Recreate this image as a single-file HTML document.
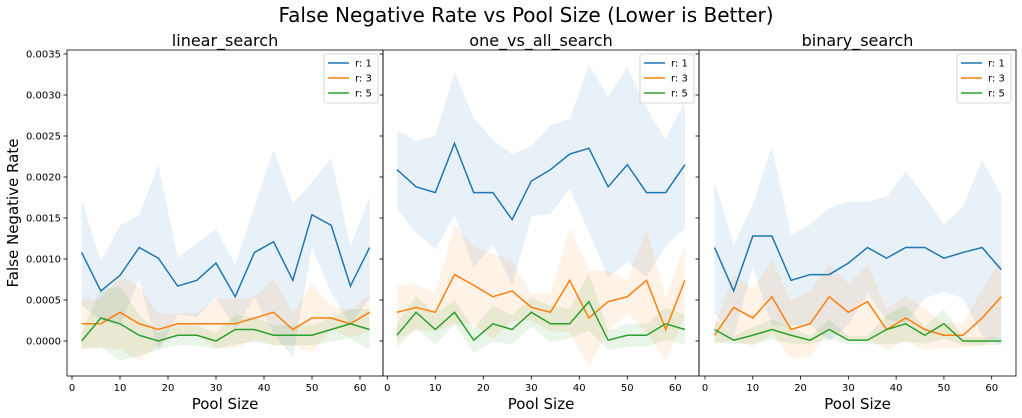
<!DOCTYPE html>
<html><head><meta charset="utf-8"><style>
body{margin:0;background:#fff;}
svg{display:block;font-family:"DejaVu Sans","Liberation Sans",sans-serif;}
</style></head><body>
<svg id="chart" width="1022" height="418" viewBox="0 0 1022 418" xmlns="http://www.w3.org/2000/svg">
<rect width="1022" height="418" fill="#fff"/>
<text x="526" y="22" font-size="20" text-anchor="middle" fill="#000">False Negative Rate vs Pool Size (Lower is Better)</text>
<g id="plots"></g>
</svg>
<script>
const poolSizes=[2,6,10,14,18,22,26,30,34,38,42,46,50,54,58,62];
const yTicks=[0,0.0005,0.001,0.0015,0.002,0.0025,0.003,0.0035];
const yTickLabels=["0.0000","0.0005","0.0010","0.0015","0.0020","0.0025","0.0030","0.0035"];
const xTicks=[0,10,20,30,40,50,60];
const panelTitles=["linear_search","one_vs_all_search","binary_search"];
const seriesNames=["r: 1","r: 3","r: 5"];
const linR1Mean=[0.00108,0.00061,0.0008,0.00114,0.00101,0.00067,0.00074,0.00095,0.00054,0.00108,0.00121,0.00074,0.00154,0.00141,0.00067,0.00114];
const linR1Err=[0.00064,0.00036,0.00061,0.00039,0.00114,0.00034,0.00045,0.00042,0.00039,0.00055,0.00112,0.00094,0.0004,0.00082,0.00048,0.00062];
const linR3Mean=[0.00021,0.00021,0.00035,0.00021,0.00014,0.00021,0.00021,0.00021,0.00021,0.00028,0.00035,0.00014,0.00028,0.00028,0.00021,0.00035];
const linR3Err=[0.0003,0.0003,0.00045,0.00045,0.0002,0.00013,0.00013,0.0003,0.0003,0.00026,0.0004,0.0002,0.00042,0.00014,0.00017,0.00023];
const linR5Mean=[0,0.00028,0.00021,0.00007,0,0.00007,0.00007,0,0.00014,0.00014,0.00007,0.00007,0.00007,0.00014,0.00021,0.00014];
const linR5Err=[0.0001,0.00035,0.00045,0.00025,0.0001,0.00012,0.00012,0.0001,0.00018,0.00015,0.00012,0.00012,0.00012,0.00015,0.00018,0.00025];
const ovaR1Mean=[0.00209,0.00188,0.00181,0.00241,0.00181,0.00181,0.00148,0.00195,0.00209,0.00228,0.00235,0.00188,0.00215,0.00181,0.00181,0.00215];
const ovaR1Err=[0.00048,0.00056,0.00069,0.00087,0.00091,0.00064,0.0008,0.00043,0.00054,0.00043,0.00102,0.0011,0.00119,0.00103,0.00065,0.00077];
const ovaR3Mean=[0.00035,0.00041,0.00035,0.00081,0.00068,0.00054,0.00061,0.00041,0.00035,0.00074,0.00028,0.00048,0.00054,0.00074,0.00014,0.00074];
const ovaR3Err=[0.00033,0.00028,0.00023,0.0006,0.00047,0.00052,0.00037,0.00016,0.00023,0.00063,0.00059,0.00037,0.0002,0.00063,0.00038,0.00043];
const ovaR5Mean=[0.00007,0.00035,0.00014,0.00035,0.00001,0.00021,0.00014,0.00035,0.00021,0.00021,0.00048,0.00001,0.00007,0.00007,0.00021,0.00014];
const ovaR5Err=[0.00014,0.0002,0.00018,0.00015,0.00015,0.00022,0.00018,0.00018,0.00022,0.00018,0.00035,0.00012,0.00014,0.00014,0.0002,0.00018];
const binR1Mean=[0.00114,0.00061,0.00128,0.00128,0.00074,0.00081,0.00081,0.00095,0.00114,0.00101,0.00114,0.00114,0.00101,0.00108,0.00114,0.00087];
const binR1Err=[0.0008,0.00056,0.00038,0.00109,0.00055,0.00061,0.00081,0.00075,0.00056,0.00075,0.00093,0.00062,0.00041,0.00056,0.00107,0.00091];
const binR3Mean=[0.00007,0.00041,0.00028,0.00054,0.00014,0.00021,0.00054,0.00035,0.00048,0.00014,0.00028,0.00014,0.00007,0.00007,0.00028,0.00054];
const binR3Err=[0.0001,0.0004,0.00035,0.00045,0.00035,0.0004,0.0004,0.00035,0.00045,0.00025,0.00028,0.00025,0.00015,0.00015,0.00035,0.00045];
const binR5Mean=[0.00014,0.00001,0.00007,0.00014,0.00007,0.00001,0.00014,0.00001,0.00001,0.00014,0.00021,0.00007,0.00021,0,0,0];
const binR5Err=[0.00015,0.00005,0.0001,0.00012,0.0001,0.00005,0.00012,0.00005,0.00005,0.00018,0.00022,0.0001,0.00018,0.00005,0.00005,0.00005];

{
const panelsData=[
 [[linR1Mean,linR1Err],[linR3Mean,linR3Err],[linR5Mean,linR5Err]],
 [[ovaR1Mean,ovaR1Err],[ovaR3Mean,ovaR3Err],[ovaR5Mean,ovaR5Err]],
 [[binR1Mean,binR1Err],[binR3Mean,binR3Err],[binR5Mean,binR5Err]]
];
const colors=["#1f77b4","#ff7f0e","#2ca02c"];
const NS="http://www.w3.org/2000/svg";
const root=document.getElementById('plots');
const boxes=[{l:67,r:383,x0:72,x60:360},{l:383,r:699,x0:387.3,x60:675.3},{l:699,r:1016,x0:705,x60:991.7}];
const plotTop=50,plotBottom=376;
const yScale=v=>341-(v/0.0035)*(341-54);
const mk=(tag,attrs,parent)=>{const e=document.createElementNS(NS,tag);for(const k in attrs)e.setAttribute(k,attrs[k]);(parent||root).appendChild(e);return e;};

boxes.forEach((b,pi)=>{
 const g=mk('g',{});
 
 
 const xScale=v=>b.x0+(v/60)*(b.x60-b.x0);
 panelsData[pi].forEach((s,si)=>{
  const m=s[0],e=s[1];
  let pts=poolSizes.map((x,i)=>xScale(x)+','+yScale(m[i]+e[i]));
  pts=pts.concat(poolSizes.map((x,i)=>xScale(x)+','+yScale(m[i]-e[i])).reverse());
  const p=mk('polygon',{points:pts.join(' '),fill:colors[si],'fill-opacity':0.1,stroke:'none'},g);
  
  
 });
 panelsData[pi].forEach((s,si)=>{
  const m=s[0];
  const l=mk('polyline',{points:poolSizes.map((x,i)=>xScale(x)+','+yScale(m[i])).join(' '),fill:'none',stroke:colors[si],'stroke-width':1.5},g);
  
  
 });
 mk('rect',{x:b.l,y:plotTop,width:b.r-b.l,height:plotBottom-plotTop,fill:'none',stroke:'#000','stroke-width':0.8},g);
 xTicks.forEach(t=>{
  const x=xScale(t);
  mk('line',{x1:x,x2:x,y1:plotBottom,y2:plotBottom+3.5,stroke:'#000','stroke-width':0.8},g);
  const tx=mk('text',{x:x,y:plotBottom+15,'font-size':10,'text-anchor':'middle',fill:'#000'},g);
  tx.textContent=t;
  
  
 });
 yTicks.forEach((t,i)=>{
  const y=yScale(t);
  mk('line',{x1:b.l-3.5,x2:b.l,y1:y,y2:y,stroke:'#000','stroke-width':0.8},g);
  if(pi===0){
   const ty=mk('text',{x:b.l-6,y:y+3.5,'font-size':10,'text-anchor':'end',fill:'#000'},g);
   ty.textContent=yTickLabels[i];
   
   
  }
 });
 const tt=mk('text',{x:(b.l+b.r)/2,y:46,'font-size':16,'text-anchor':'middle',fill:'#000'},g);
 tt.textContent=panelTitles[pi];
 
 
 const xl=mk('text',{x:(b.l+b.r)/2,y:409,'font-size':15,'text-anchor':'middle',fill:'#000'},g);
 xl.textContent='Pool Size';
 
 
 const lg=mk('g',{},g);
 
 
 const lx=b.r-59;
 mk('rect',{x:lx,y:54,width:54,height:49,rx:2,fill:'#fff','fill-opacity':0.8,stroke:'#ccc','stroke-width':0.8},lg);
 seriesNames.forEach((n,si)=>{
  const y=63+si*15;
  mk('line',{x1:lx+4,x2:lx+25,y1:y,y2:y,stroke:colors[si],'stroke-width':1.5},lg);
  const t=mk('text',{x:lx+31,y:y+3.5,'font-size':10,fill:'#000'},lg);
  t.textContent=n;
  
  
 });
});
const yl=mk('text',{x:18,y:213,'font-size':15,'text-anchor':'middle',fill:'#000',transform:'rotate(-90 18 213)'});
yl.textContent='False Negative Rate';


}
</script>
</body></html>
